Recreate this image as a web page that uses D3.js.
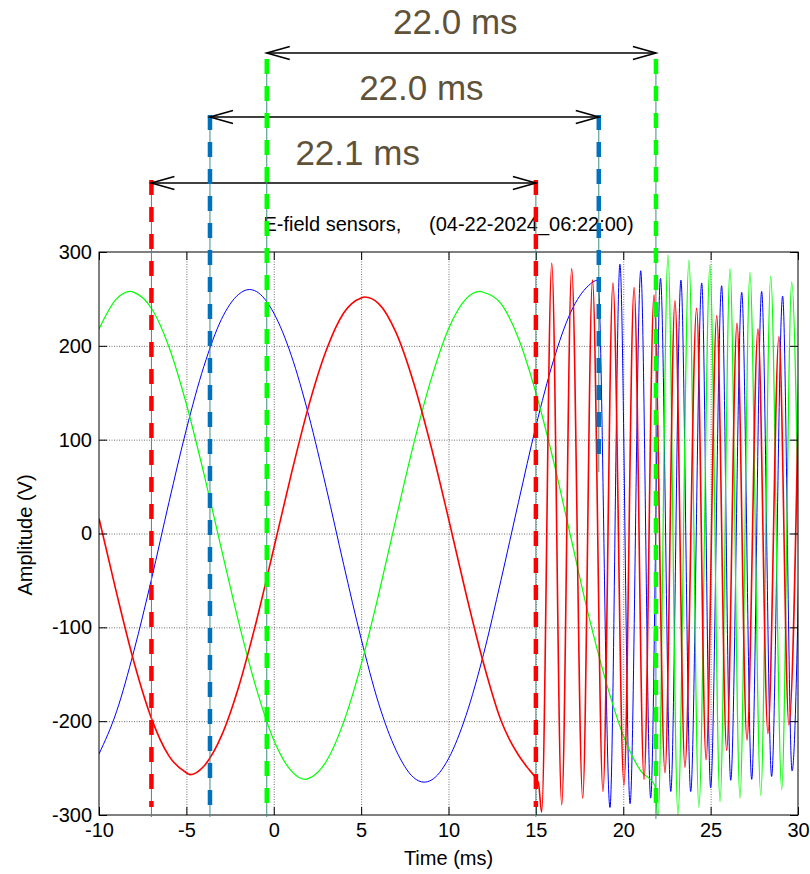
<!DOCTYPE html>
<html>
<head>
<meta charset="utf-8">
<script src="https://cdn.jsdelivr.net/npm/d3@7"></script>
<style>
  body { margin: 0; background: #fff; }
  text { font-family: "Liberation Sans", Arial, Helvetica, sans-serif; }
</style>
</head>
<body>
<svg id="chart"></svg>
<script>
// tick values
const xTicks = [-10, -5, 0, 5, 10, 15, 20, 25, 30];
const yTicks = [-300, -200, -100, 0, 100, 200, 300];

// red sensor (time ms, amplitude V)
const redT = [-10, -9, -8, -7, -6, -5, -4.8, -4, -3, -2, -1, 0, 1, 2, 3, 4, 5, 5.2, 6, 7, 8, 9, 10, 11, 12, 13, 13.5, 14, 14.5, 15, 15.15,
  15.33, 15.91, 16.48, 17.05, 17.68, 18.24, 18.84, 19.41, 20.04, 20.62, 21.19, 21.76, 22.39, 22.96, 23.53, 24.2,
  24.74, 25.35, 25.92, 26.51, 27.08, 27.71, 28.28, 28.91, 29.48, 30.08];
const redV = [16, -63, -137, -197, -237, -255, -257, -248, -216, -163, -94, -16, 63, 136, 195, 235, 251, 252, 245, 214, 161, 93, 16, -64, -138, -199, -220, -236, -249, -261, -266,
  -297, 288, -289, 282, -282, 270, -275, 267, -268, 262, -262, 254, -255, 248, -249, 240,
  -241, 232, -231, 224, -220, 218, -213, 210, -204, 202];

// blue sensor
const blueT = [-10, -9, -8, -7, -6, -5, -4, -3, -2, -1.4, -1, 0, 1, 2, 3, 4, 5, 6, 7, 8, 8.6, 9, 10, 11, 12, 13, 14, 15, 16, 17, 18, 18.55,
  19.24, 19.81, 20.39, 21.0, 21.57, 22.13, 22.72, 23.3, 23.86, 24.49, 25.0, 25.63, 26.15, 26.78, 27.35, 27.92, 28.49, 29.12, 29.66, 30.3];
const blueV = [-235, -190, -125, -49, 33, 111, 178, 228, 255, 260, 258, 235, 190, 126, 49, -33, -112, -181, -231, -260, -265, -263, -240, -194, -129, -50, 33, 114, 184, 236, 264, 270,
  -292, 287, -288, 280, -282, 272, -275, 270, -275, 267, -271, 264, -263, 257, -262, 258, -259, 253, -253, 250];

// green sensor
const greenT = [-10, -9, -8.2, -8, -7, -6, -5, -4, -3, -2, -1, 0, 1, 1.8, 2, 3, 4, 5, 6, 7, 8, 9, 10, 11, 11.8, 12, 13, 14, 15, 16, 17, 18, 19, 20, 21, 21.8,
  21.99, 22.56, 23.13, 23.76, 24.33, 24.96, 25.54, 26.11, 26.68, 27.25, 27.87, 28.44, 29.07, 29.64, 30.23];
const greenV = [218, 250, 258, 257, 240, 199, 138, 64, -16, -95, -165, -220, -253, -262, -261, -243, -201, -140, -65, 16, 95, 164, 218, 250, 258, 257, 245, 208, 150, 78, -4, -86, -157, -215, -253, -268,
  -304, 297, -300, 291, -292, 286, -286, 282, -282, 278, -279, 274, -273, 268, -270];

// period markers (ms)
const markerStart = [-7.0, -3.65, -0.4];
const markerEnd = [15.0, 18.6, 21.87];
const markerLabels = ["22.1 ms", "22.0 ms", "22.0 ms"];

const series = [
  { t: blueT, v: blueV, color: "#0000ff", w: 1 },
  { t: greenT, v: greenV, color: "#00ff00", w: 1.2 },
  { t: redT, v: redV, color: "#ff0000", w: 1.6 },
];
const markerColors = ["#ff0000", "#0072bd", "#00ff00"];

const margin = { top: 252, right: 12, bottom: 59, left: 99 };
const width = 810 - margin.left - margin.right;
const height = 874 - margin.top - margin.bottom;

const svg = d3.select("#chart").attr("width", 810).attr("height", 874);
const g = svg.append("g").attr("transform", `translate(${margin.left},${margin.top})`);

const x = d3.scaleLinear().domain([-10, 30]).range([0, width]);
const y = d3.scaleLinear().domain([-300, 300]).range([height, 0]);

// grid
g.append("g")
  .attr("class", "grid")
  .attr("transform", `translate(0,${height})`)
  .call(d3.axisBottom(x).tickValues(xTicks.slice(1, -1)).tickSize(-height).tickFormat(""));
g.append("g")
  .attr("class", "grid")
  .call(d3.axisLeft(y).tickValues(yTicks.slice(1, -1)).tickSize(-width).tickFormat(""));
g.selectAll(".grid .domain").remove();
g.selectAll(".grid line").attr("stroke", "#707070").attr("stroke-dasharray", "1,1.5");

// signals
g.append("clipPath").attr("id", "plot-clip")
  .append("rect").attr("width", width).attr("height", height);

const line = d3.line()
  .x((d) => x(d[0]))
  .y((d) => y(d[1]))
  .curve(d3.curveMonotoneX);

series.forEach((s) => {
  g.append("path")
    .datum(s.t.map((t, i) => [t, s.v[i]]))
    .attr("clip-path", "url(#plot-clip)")
    .attr("fill", "none")
    .attr("stroke", s.color)
    .attr("stroke-width", s.w)
    .attr("d", line);
});

// axes with inward ticks on all four sides
const fontSize = 20;
const plain = (d) => String(d);
g.append("g")
  .attr("transform", `translate(0,${height})`)
  .call(d3.axisBottom(x).tickValues(xTicks).tickFormat(plain).tickSizeInner(-8).tickSizeOuter(0).tickPadding(8));
g.append("g")
  .call(d3.axisLeft(y).tickValues(yTicks).tickFormat(plain).tickSizeInner(-8).tickSizeOuter(0).tickPadding(7));
g.append("g").call(d3.axisTop(x).tickValues(xTicks).tickSizeInner(-8).tickSizeOuter(0).tickFormat(""));
g.append("g").attr("transform", `translate(${width},0)`)
  .call(d3.axisRight(y).tickValues(yTicks).tickSizeInner(-8).tickSizeOuter(0).tickFormat(""));
g.selectAll(".domain").remove();
g.selectAll(".tick text")
  .attr("font-family", "Liberation Sans, Arial, sans-serif")
  .attr("font-size", fontSize)
  .attr("fill", "#000");

g.append("rect")
  .attr("width", width)
  .attr("height", height)
  .attr("fill", "none")
  .attr("stroke", "#000")
  .attr("stroke-width", 1);

// title and axis labels
svg.append("text")
  .attr("x", margin.left + width / 2)
  .attr("y", 231)
  .attr("text-anchor", "middle")
  .attr("font-size", fontSize)
  .style("white-space", "pre")
  .text("E-field sensors,     (04-22-2024_06:22:00)");

svg.append("text")
  .attr("x", margin.left + width / 2)
  .attr("y", 865)
  .attr("text-anchor", "middle")
  .attr("font-size", fontSize)
  .text("Time (ms)");

svg.append("text")
  .attr("transform", "translate(32,535) rotate(-90)")
  .attr("text-anchor", "middle")
  .attr("font-size", fontSize)
  .text("Amplitude (V)");

// period markers: dashed verticals, arrows, labels (layout in px)
const markerTop = [180, 115, 59];
const arrowY = [183, 117, 53];
const startBottom = [815, 815, 815];
const endBottom = [815, 470, 817];
const labelY = [165, 100, 34];
const labelDx = [14, 17, -6];

const ann = svg.append("g").attr("transform", `translate(${margin.left},0)`);

function vline(xp, y0, y1, color) {
  ann.append("line")
    .attr("x1", xp).attr("x2", xp).attr("y1", y0).attr("y2", y1 + 2)
    .attr("stroke", "#3d8f80").attr("stroke-width", 1);
  ann.append("line")
    .attr("x1", xp).attr("x2", xp).attr("y1", y0).attr("y2", y1 - 8)
    .attr("stroke", color).attr("stroke-width", 4.5)
    .attr("stroke-dasharray", "15,12");
}

markerStart.forEach((t0, i) => {
  const x0 = x(t0);
  const x1 = x(markerEnd[i]);
  vline(x0, markerTop[i], startBottom[i], markerColors[i]);
  vline(x1, markerTop[i], endBottom[i], markerColors[i]);

  const ay = arrowY[i];
  ann.append("line")
    .attr("x1", x0).attr("x2", x1).attr("y1", ay).attr("y2", ay)
    .attr("stroke", "#000").attr("stroke-width", 1.6);
  const head = (xt, dir) =>
    `M${xt + dir * 23},${ay - 6.5}L${xt},${ay}L${xt + dir * 23},${ay + 6.5}`;
  ann.append("path").attr("d", head(x0, 1))
    .attr("fill", "none").attr("stroke", "#000").attr("stroke-width", 1.6);
  ann.append("path").attr("d", head(x1, -1))
    .attr("fill", "none").attr("stroke", "#000").attr("stroke-width", 1.6);

  ann.append("text")
    .attr("x", (x0 + x1) / 2 + labelDx[i])
    .attr("y", labelY[i])
    .attr("text-anchor", "middle")
    .attr("font-size", 35)
    .attr("fill", "#5f5238")
    .text(markerLabels[i]);
});
</script>
</body>
</html>
